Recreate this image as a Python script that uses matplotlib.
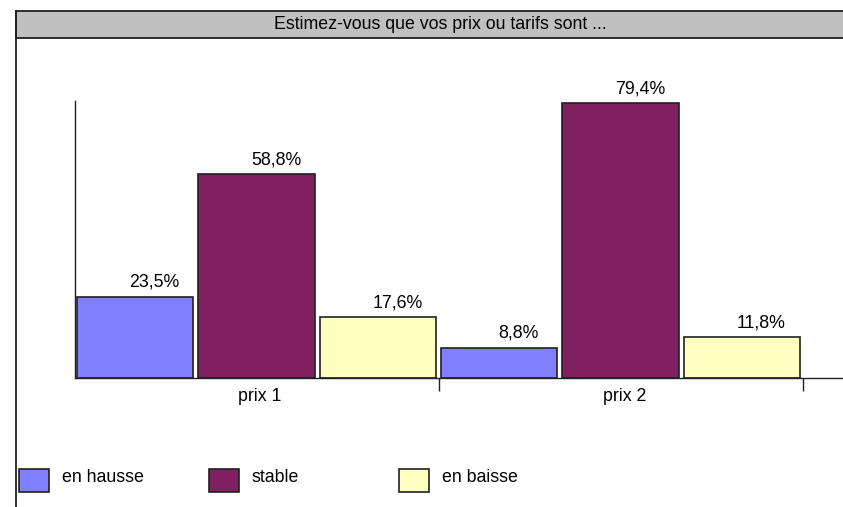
import numpy as np
import matplotlib.pyplot as plt
from matplotlib.patches import Rectangle
from matplotlib.lines import Line2D

plt.rcParams['font.family'] = ['Liberation Sans', 'DejaVu Sans']

# data
categories = ['prix 1', 'prix 2']
series = ['en hausse', 'stable', 'en baisse']
values = {
    'en hausse': [23.5, 8.8],
    'stable': [58.8, 79.4],
    'en baisse': [17.6, 11.8],
}
colors = ['#8080FF', '#802060', '#FFFFC0']
title = 'Estimez-vous que vos prix ou tarifs sont ...'

W, H = 843, 507
fs = 12.8
fig = plt.figure(figsize=(W / 100, H / 100), dpi=100)

# frame and title band (box runs past the right edge)
fig.patches.append(Rectangle((16 / W, 1 - 38 / H), 1, 27 / H, transform=fig.transFigure,
                             facecolor='#C0C0C0', edgecolor='#202020', lw=1.3))
fig.lines.append(Line2D([16 / W, 16 / W], [0, 1 - 11 / H], transform=fig.transFigure,
                        color='#202020', lw=1.3))
fig.text(440 / W, 1 - 24.5 / H, title, ha='center', va='center', fontsize=fs)

ax = fig.add_axes([74.5 / W, 1 - 378 / H, (843 - 74.5) / W, (378 - 101) / H])
x = np.arange(len(categories))
offsets = [-1 / 3, 0, 1 / 3]
width = 0.32
for s, off, c in zip(series, offsets, colors):
    ax.bar(x + off, values[s], width, color=c, edgecolor='#202020', lw=1.2, label=s)
    for xi, v in zip(x + off, values[s]):
        ax.annotate(f'{v:.1f}%'.replace('.', ','), (xi, v), xytext=(14, 7.2),
                    textcoords='offset points', ha='center', va='baseline', fontsize=fs)

ax.set_xlim(-0.5, 1.611)
ax.set_ylim(0, 80)
ax.set_yticks([])
ax.set_xticks(x + 0.01)
ax.set_xticklabels(categories, fontsize=fs)
ax.tick_params(axis='x', which='major', length=0, pad=7)
ax.set_xticks([0.5, 1.5], minor=True)
ax.tick_params(axis='x', which='minor', length=9, width=1, direction='out', color='#202020')
for side in ['top', 'right']:
    ax.spines[side].set_visible(False)
for side in ['left', 'bottom']:
    ax.spines[side].set_linewidth(1)
    ax.spines[side].set_color('#202020')

# legend
for i, (s, c) in enumerate(zip(series, colors)):
    x0 = 19 + 190 * i
    fig.patches.append(Rectangle((x0 / W, 1 - 492 / H), 30 / W, 23 / H, transform=fig.transFigure,
                                 facecolor=c, edgecolor='#202020', lw=1.2))
    fig.text((x0 + 43) / W, 1 - 477 / H, s, ha='left', va='center', fontsize=fs)

fig.savefig('out.png', dpi=100)
